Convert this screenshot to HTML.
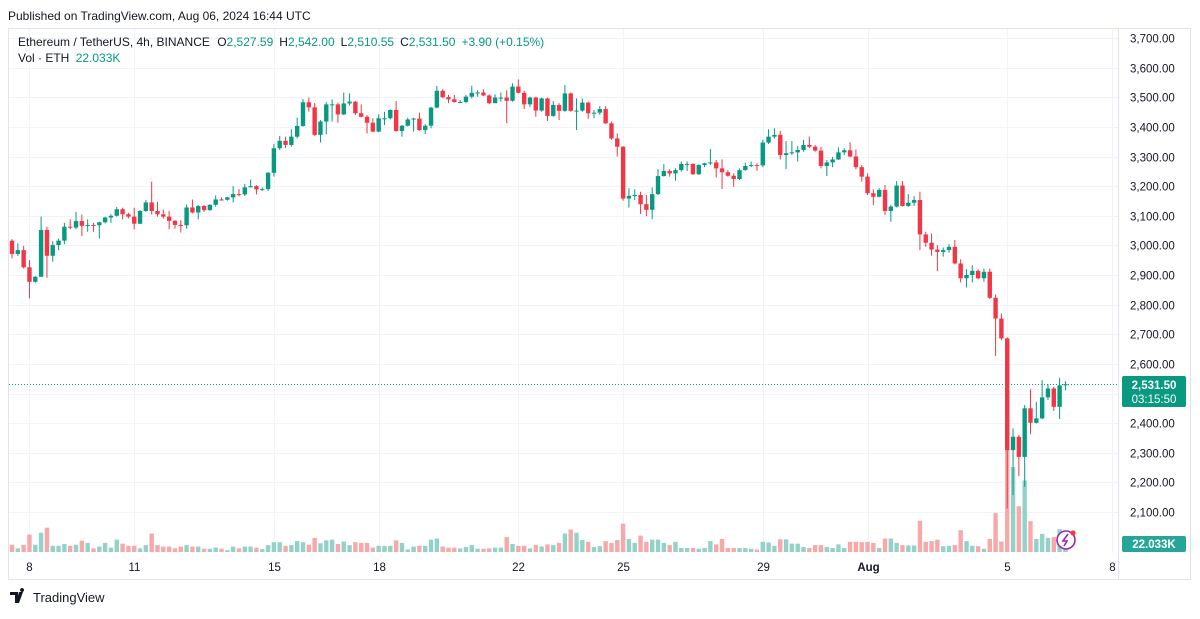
<!DOCTYPE html>
<html><head><meta charset="utf-8">
<style>
html,body{margin:0;padding:0;background:#fff;}
body{width:1200px;height:614px;overflow:hidden;font-family:"Liberation Sans",sans-serif;}
svg text{font-family:"Liberation Sans",sans-serif;}
</style></head>
<body>
<svg id="chart" width="1200" height="614" viewBox="0 0 1200 614" xmlns="http://www.w3.org/2000/svg">
  <rect x="0" y="0" width="1200" height="614" fill="#ffffff"/>
  <text x="8" y="20" font-size="12" fill="#131722">Published on TradingView.com, Aug 06, 2024 16:44 UTC</text>
  <rect x="8.5" y="28.5" width="1182" height="551" fill="none" stroke="#e0e3eb"/>
  <line x1="1118.5" y1="28" x2="1118.5" y2="580" stroke="#e0e3eb"/>
  <g id="grid"></g>
  <g id="vols"></g>
  <g id="candles"></g>
  <g id="yaxis"></g>
  <g id="xaxis"></g>
  <line x1="9" y1="384.5" x2="1118" y2="384.5" stroke="#089981" stroke-width="1" stroke-dasharray="1,2"/>
  <g>
    <rect x="1122" y="376" width="64" height="31" rx="2" fill="#089981"/>
    <text x="1154" y="389" font-size="11.5" fill="#fff" text-anchor="middle" font-weight="bold">2,531.50</text>
    <text x="1154" y="403" font-size="11.5" fill="#fff" text-anchor="middle">03:15:50</text>
  </g>
  <g>
    <rect x="1122" y="536" width="64" height="16" rx="2" fill="#26a69a"/>
    <text x="1154" y="548" font-size="11.5" fill="#fff" text-anchor="middle" font-weight="bold">22.033K</text>
  </g>
  <g font-size="12">
    <text x="18" y="46" fill="#131722">Ethereum / TetherUS, 4h, BINANCE <tspan dx="4">O</tspan><tspan fill="#089981">2,527.59</tspan><tspan dx="6">H</tspan><tspan fill="#089981">2,542.00</tspan><tspan dx="6">L</tspan><tspan fill="#089981">2,510.55</tspan><tspan dx="6">C</tspan><tspan fill="#089981">2,531.50</tspan><tspan dx="6" fill="#089981">+3.90 (+0.15%)</tspan></text>
    <text x="18" y="62" fill="#131722">Vol · ETH <tspan dx="3" fill="#089981">22.033K</tspan></text>
  </g>
  <g>
    <circle cx="1066" cy="540" r="9" fill="#fff" stroke="#9c27b0" stroke-width="1.6"/>
    <path d="M1068 534 L1063 541 L1067 541 L1064 546" fill="none" stroke="#9c27b0" stroke-width="1.6"/>
    <circle cx="1073" cy="533" r="2.6" fill="#f23645"/>
  </g>
  <g>
    <path d="M10 592 h8 v11 h-3 v-8 h-5 z M19 592 h4 l-4 11 h-3 z M22 592 a2 2 0 1 1 0.1 0" fill="#131722"/>
    <text x="33" y="602" font-size="13" fill="#131722">TradingView</text>
  </g>
</svg>
<script>
const priceTicks = [2100,2200,2300,2400,2500,2600,2700,2800,2900,3000,3100,3200,3300,3400,3500,3600,3700];
const dayLabels = ["8","11","15","18","22","25","29","Aug","5","8"];
const dayOffsets = [0,3,7,10,14,17,21,24,28,31];
const firstOpen = 3016;
const closes = [2971,2984,2926,2877,2894,3052,2965,3001,3016,3063,
3060,3082,3066,3069,3068,3078,3094,3100,3122,3105,
3097,3073,3116,3145,3116,3105,3097,3083,3069,3068,
3128,3111,3133,3119,3137,3155,3154,3162,3173,3172,
3196,3200,3189,3190,3245,3328,3353,3339,3367,3403,
3483,3466,3373,3418,3476,3476,3442,3479,3485,3446,
3434,3414,3384,3429,3429,3457,3386,3404,3425,3428,
3389,3404,3465,3522,3500,3493,3484,3484,3502,3515,
3516,3506,3480,3499,3499,3488,3536,3515,3476,3499,
3455,3496,3437,3474,3454,3513,3454,3455,3482,3446,
3448,3460,3412,3361,3333,3158,3167,3170,3139,3120,
3173,3234,3251,3243,3254,3275,3275,3240,3271,3277,
3280,3260,3247,3235,3224,3254,3268,3271,3270,3347,
3367,3373,3305,3311,3314,3322,3339,3333,3320,3268,
3280,3290,3314,3321,3300,3264,3232,3176,3164,3187,
3116,3131,3202,3133,3144,3153,3037,3009,2986,2978,
2984,2995,2939,2889,2900,2914,2889,2911,2823,2753,
2686,2309,2354,2286,2450,2401,2416,2487,2517,2455,
2527.59,2531.5];
const highs = [3021,3007,2998,2950,2896,3097,3063,3014,3023,3076,
3088,3113,3104,3088,3076,3080,3097,3105,3130,3127,
3110,3127,3119,3153,3215,3147,3121,3116,3085,3085,
3138,3155,3136,3136,3139,3169,3162,3164,3200,3190,
3207,3222,3203,3196,3248,3342,3369,3367,3392,3431,
3494,3499,3480,3423,3483,3493,3482,3516,3513,3487,
3476,3440,3429,3442,3451,3459,3487,3406,3431,3431,
3448,3409,3468,3538,3527,3508,3508,3491,3508,3539,
3524,3527,3510,3510,3516,3524,3547,3560,3522,3502,
3502,3499,3499,3487,3480,3541,3516,3496,3496,3485,
3457,3470,3470,3418,3378,3335,3193,3189,3181,3170,
3196,3257,3274,3257,3260,3283,3283,3277,3274,3279,
3325,3288,3290,3254,3243,3260,3279,3283,3277,3356,
3392,3395,3387,3352,3352,3335,3356,3367,3339,3333,
3288,3299,3331,3328,3348,3324,3271,3243,3189,3193,
3204,3136,3217,3217,3173,3166,3181,3046,3040,3001,
2993,3004,3018,2953,2920,2933,2919,2922,2922,2834,
2770,2690,2382,2360,2461,2514,2472,2545,2532,2523,
2553,2542];
const lows = [2956,2964,2922,2821,2874,2922,2891,2945,2984,3004,
3054,3054,3031,3046,3046,3023,3074,3076,3097,3088,
3091,3054,3072,3113,3104,3097,3091,3054,3056,3043,
3056,3108,3088,3113,3117,3130,3151,3151,3145,3166,
3167,3196,3172,3184,3184,3232,3322,3328,3333,3361,
3401,3451,3370,3347,3375,3418,3414,3440,3472,3440,
3432,3378,3382,3382,3406,3425,3384,3367,3401,3384,
3387,3376,3395,3463,3496,3480,3482,3482,3480,3496,
3502,3504,3477,3480,3485,3412,3485,3513,3460,3468,
3434,3451,3420,3434,3423,3451,3451,3389,3451,3427,
3429,3440,3410,3356,3300,3151,3128,3153,3106,3099,
3088,3170,3232,3232,3218,3249,3251,3238,3238,3264,
3271,3229,3190,3232,3198,3221,3252,3264,3252,3264,
3342,3361,3290,3257,3305,3283,3316,3328,3316,3260,
3234,3264,3288,3305,3297,3257,3215,3170,3136,3162,
3103,3080,3128,3131,3130,3133,2984,2995,2965,2913,
2962,2975,2936,2875,2858,2875,2886,2877,2819,2627,
2680,2112,2157,2221,2185,2363,2399,2413,2478,2441,
2414,2510.55];
const volumes = [20,10,20,48,20,53,67,17,17,22,
17,20,31,25,10,15,25,12,34,23,
17,17,10,19,51,19,15,15,10,15,
19,15,15,9,9,12,9,5,15,10,
15,15,12,8,19,27,27,17,19,30,
27,20,39,24,32,34,22,29,19,27,
25,25,12,17,17,17,32,25,7,15,
17,17,34,37,15,12,12,10,14,19,
9,9,10,12,12,41,22,17,17,10,
19,15,21,19,25,51,62,53,33,28,
14,16,30,25,33,78,36,25,45,28,
34,34,25,19,28,11,11,11,9,11,
30,21,36,11,11,11,11,9,7,28,
26,17,35,35,23,23,14,11,19,19,
14,11,21,11,28,28,27,28,25,11,
37,37,25,19,18,18,86,28,30,34,
16,17,19,60,30,17,16,9,36,107,
29,361,234,126,197,85,36,50,39,41,
63,22];

const NS = "http://www.w3.org/2000/svg";
const PLOT_L = 9, PLOT_R = 1118, PLOT_T = 29, VOL_BASE = 552;
const X0 = 12, STEP = 5.82;
function xScale(i){ return X0 + i*STEP; }
function yScale(p){ return 38 + (3700 - p) * 0.29625; }
function vScale(v){ return v * 0.363; }
function mk(tag, attrs, parent){
  const e = document.createElementNS(NS, tag);
  for (const k in attrs) e.setAttribute(k, attrs[k]);
  parent.appendChild(e);
  return e;
}
const grid = document.getElementById('grid');
const yaxis = document.getElementById('yaxis');
const xaxis = document.getElementById('xaxis');
priceTicks.forEach(function(p){
  const y = Math.round(yScale(p)) + 0.5;
  const gl = mk('line', {x1:PLOT_L, x2:PLOT_R, y1:y, y2:y, stroke:'#f0f3fa'}, grid);
  
  
  const t = mk('text', {x:1130, y:y+4, 'font-size':11.5, fill:'#131722'}, yaxis);
  
  
  t.textContent = p.toLocaleString('en-US') + '.00';
});
dayLabels.forEach(function(lbl, k){
  const x = Math.round(xScale(3 + 6*dayOffsets[k])) + 0.5;
  const gl = mk('line', {x1:x, x2:x, y1:PLOT_T, y2:553, stroke:'#f0f3fa'}, grid);
  
  
  const t = mk('text', {x:x, y:571, 'font-size':11.5, fill:'#131722', 'text-anchor':'middle', 'font-weight': lbl === 'Aug' ? 'bold' : 'normal'}, xaxis);
  
  
  t.textContent = lbl;
});
const vols = document.getElementById('vols');
const candles = document.getElementById('candles');
for (let i = 0; i < closes.length; i++){
  const o = i === 0 ? firstOpen : closes[i-1];
  const c = closes[i];
  const up = c >= o;
  const x = xScale(i);
  const col = up ? '#089981' : '#f23645';
  const vh = vScale(volumes[i]);
  const vb = mk('rect', {x:x-2.2, y:VOL_BASE - vh, width:4.4, height:vh, fill: up ? '#92d2c8' : '#f7a8a8'}, vols);
  
  
  const hi = Math.max(highs[i], o, c), lo = Math.min(lows[i], o, c);
  const w = mk('line', {x1:x, x2:x, y1:yScale(hi), y2:yScale(lo), stroke:col, 'stroke-width':1}, candles);
  
  
  const yt = yScale(Math.max(o,c)), yb = yScale(Math.min(o,c));
  const b = mk('rect', {x:x-2.2, y:yt, width:4.4, height:Math.max(1, yb-yt), fill:col}, candles);
  
  
}
</script>
</body></html>
